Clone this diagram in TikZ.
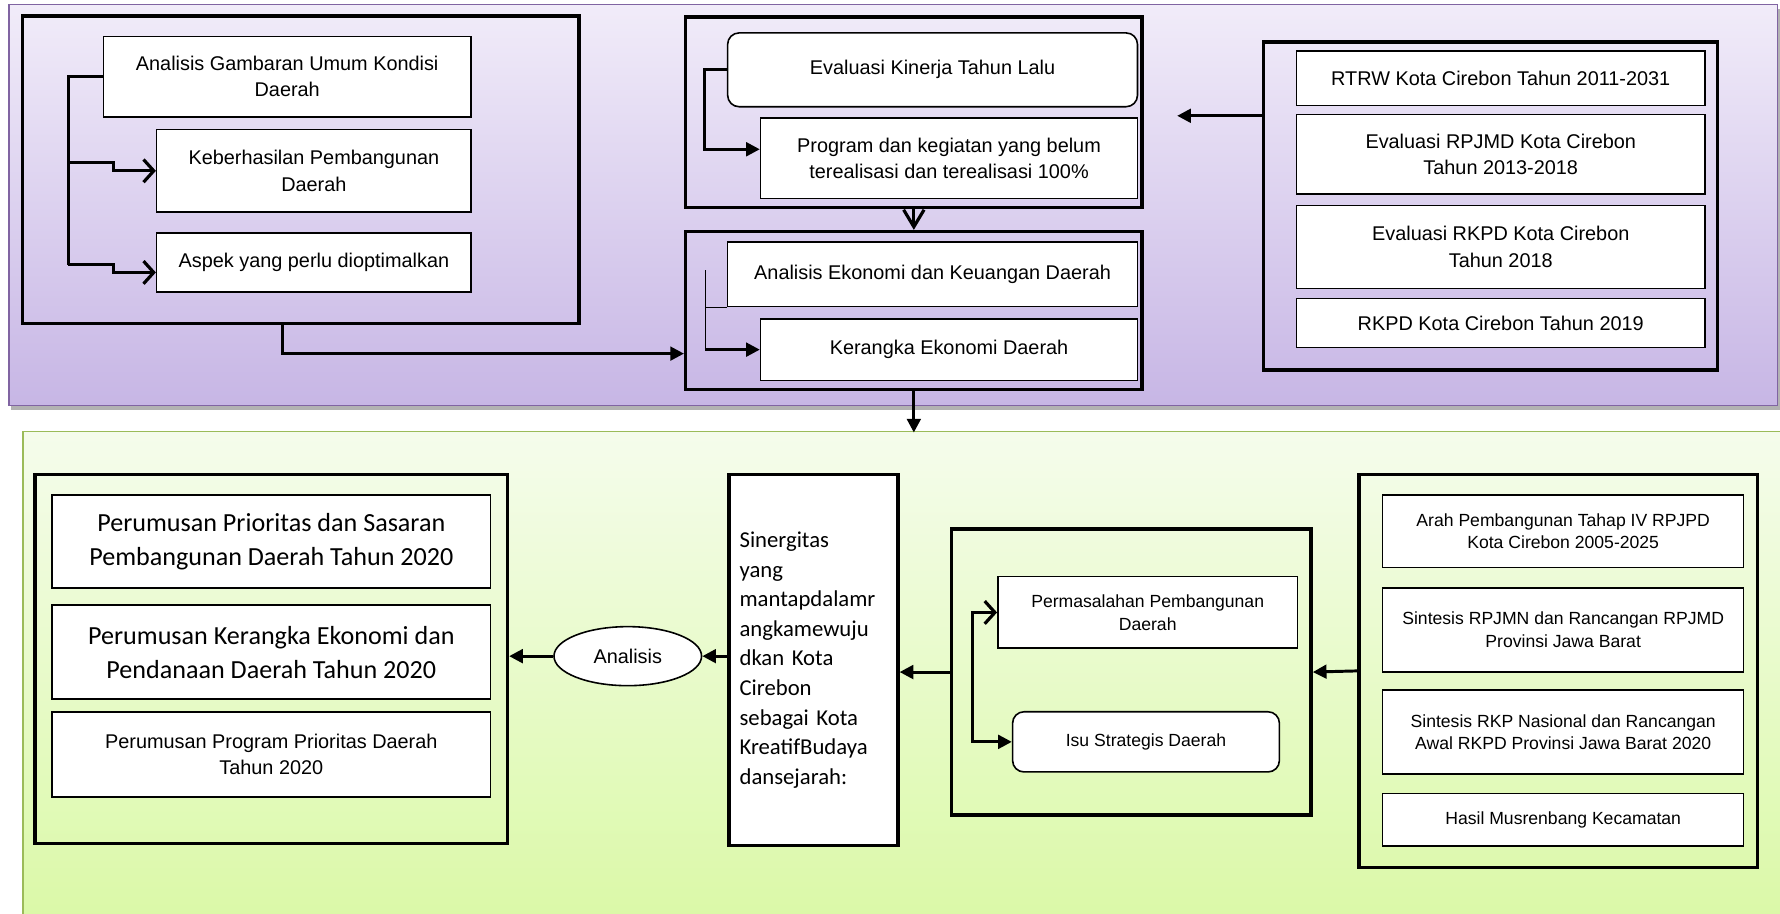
\documentclass[tikz,border=0pt]{standalone}
\usepackage{fontspec}
\setmainfont{Liberation Sans}
\newfontfamily\calibri{Carlito}
\usetikzlibrary{arrows.meta,shapes.geometric}
\definecolor{ungu}{RGB}{128,100,162}
\definecolor{unguatas}{RGB}{241,236,249}
\definecolor{ungubawah}{RGB}{199,182,229}
\definecolor{hijau}{RGB}{155,187,89}
\definecolor{hijauatas}{RGB}{245,252,236}
\definecolor{hijaubawah}{RGB}{219,249,168}
\tikzset{
	kotak/.style 2 args={draw,line width=1.4pt,fill=white,align=center,inner sep=0pt,minimum width=#1pt,minimum height=#2pt,font=\fontsize{17.5}{23}\selectfont},
	bulat/.style 2 args={kotak={#1}{#2},rounded corners=10pt},
	grup/.style 2 args={draw,line width=3pt,inner sep=0pt,minimum width=#1pt,minimum height=#2pt},
	kecil/.style={font=\fontsize{15.5}{20}\selectfont},
	besar/.style={font=\calibri\fontsize{23}{30}\selectfont},
	sinergi/.style={align=left,text width=130pt,line width=3pt,font=\calibri\fontsize{20}{26}\selectfont},
	elips/.style={draw,ellipse,line width=1.4pt,fill=white,inner sep=0pt,minimum width=130pt,minimum height=52pt,font=\fontsize{17.5}{23}\selectfont},
	garis/.style={line width=2.8pt},
	panahbuka/.style={line width=2.8pt,-{Straight Barb[length=9pt,width=20pt]}},
	panahisi/.style={line width=2.6pt,-{Triangle[length=12pt,width=12pt]}}
}

\begin{document}
\begin{tikzpicture}[x=1pt,y=-1pt]
	\useasboundingbox (0,0) rectangle (1568,805);
	\fill[gray!60] (10,8) rectangle (1568,361);
	\shade[top color=unguatas,bottom color=ungubawah] (8,4) rectangle (1566,357);
	\draw[ungu,line width=1.2pt] (8,4) rectangle (1566,357);
	\shade[top color=hijauatas,bottom color=hijaubawah] (20,380) rectangle (1568,805);
	\draw[hijau,line width=1.5pt] (20,805) |- (1568,380);

	\node[grup={490}{271}] (grpKondisi) at (265,149.5) {};
	\node[kotak={324}{71}] (gambaran) at (253,67.5) {Analisis Gambaran Umum Kondisi\\Daerah};
	\node[kotak={277}{73}] (keberhasilan) at (276.5,150.5) {Keberhasilan Pembangunan\\Daerah};
	\node[kotak={277}{52}] (aspek) at (276.5,231) {Aspek yang perlu dioptimalkan};

	\node[grup={402}{168}] (grpEvaluasi) at (805,99) {};
	\node[bulat={361}{65}] (kinerja) at (821.5,61.5) {Evaluasi Kinerja Tahun Lalu};
	\node[kotak={332}{71}] (program) at (836,139.5) {Program dan kegiatan yang belum\\terealisasi dan terealisasi 100\%};

	\node[grup={402}{139}] (grpEkonomi) at (805,273.5) {};
	\node[kotak={361}{57}] (analisisEko) at (821.5,241.5) {Analisis Ekonomi dan Keuangan Daerah};
	\node[kotak={332}{54}] (kerangka) at (836,308) {Kerangka Ekonomi Daerah};

	\node[grup={400}{289}] (grpAcuan) at (1313,181.5) {};
	\node[kotak={360}{48}] (rtrw) at (1322,69) {RTRW Kota Cirebon Tahun 2011-2031};
	\node[kotak={360}{70}] (rpjmd) at (1322,136) {Evaluasi RPJMD Kota Cirebon\\Tahun 2013-2018};
	\node[kotak={360}{73}] (rkpdLalu) at (1322,217.5) {Evaluasi RKPD Kota Cirebon\\Tahun 2018};
	\node[kotak={360}{43}] (rkpdKini) at (1322,284.5) {RKPD Kota Cirebon Tahun 2019};

	\node[grup={416}{325}] (grpRumusan) at (239,580.5) {};
	\node[kotak={386}{82},besar] (prioritas) at (239,477) {Perumusan Prioritas dan Sasaran\\Pembangunan Daerah Tahun 2020};
	\node[kotak={386}{83},besar] (pendanaan) at (239,574.5) {Perumusan Kerangka Ekonomi dan\\Pendanaan Daerah Tahun 2020};
	\node[kotak={386}{75}] (programPrioritas) at (239,664.5) {Perumusan Program Prioritas Daerah\\Tahun 2020};
	\node[elips] (analisis) at (553,578) {Analisis};
	\node[kotak={149}{327},sinergi] (sinergitas) at (716.5,581.5) {Sinergitas\\yang\\mantapdalamr\\angkamewuju\\dkan Kota\\Cirebon\\sebagai Kota\\KreatifBudaya\\dansejarah:};

	\node[grup={317}{252}] (grpMasalah) at (996.5,592) {};
	\node[kotak={264}{63},kecil] (permasalahan) at (1011,539.5) {Permasalahan Pembangunan\\Daerah};
	\node[bulat={235}{53},kecil] (isu) at (1009.5,653.5) {Isu Strategis Daerah};

	\node[grup={351}{346}] (grpSintesis) at (1372.5,591) {};
	\node[kotak={318}{64},kecil] (arah) at (1377,468) {Arah Pembangunan Tahap IV RPJPD\\Kota Cirebon 2005-2025};
	\node[kotak={318}{74},kecil] (rpjmn) at (1377,555) {Sintesis RPJMN dan Rancangan RPJMD\\Provinsi Jawa Barat};
	\node[kotak={318}{74},kecil] (rkpNas) at (1377,645) {Sintesis RKP Nasional dan Rancangan\\Awal RKPD Provinsi Jawa Barat 2020};
	\node[kotak={318}{46},kecil] (musrenbang) at (1377,722) {Hasil Musrenbang Kecamatan};

	\coordinate (kiriAtas) at (60,143);
	\coordinate (kiriBawah) at (60,233);
	\draw[garis] (gambaran.west) -| (kiriBawah);
	\draw[panahbuka] (kiriAtas) -- ++(40,0) |- (keberhasilan.west);
	\draw[panahbuka] (kiriBawah) -- ++(40,0) |- ([yshift=-9pt]aspek.west);
	\draw[panahisi] ([xshift=-16pt]grpKondisi.south) |- ([yshift=-38pt]grpEkonomi.west);
	\draw[panahisi] (kinerja.west) -- ++(-20,0) |- ([yshift=8pt]program.west);
	\draw[line width=2.8pt,-{Straight Barb[length=15pt,width=18pt]}] (grpEvaluasi.south) -- (grpEkonomi.north);
	\coordinate (ekoAtas) at (621,238);
	\draw[thin] (ekoAtas) -- (ekoAtas |- kerangka.west);
	\draw[thin] (analisisEko.south west) -- (analisisEko.south west -| ekoAtas);
	\draw[panahisi] (ekoAtas |- kerangka.west) -- (kerangka.west);
	\coordinate (ujungAcuan) at (1037,102);
	\draw[panahisi] (grpAcuan.west |- ujungAcuan) -- (ujungAcuan);
	\coordinate (hijauAtas) at (805,381);
	\draw[panahisi] (grpEkonomi.south) -- (hijauAtas);

	\draw[panahisi] (grpSintesis.west) -- (grpMasalah.east);
	\draw[panahisi] (grpMasalah.west) -- (grpMasalah.west -| sinergitas.east);
	\draw[panahisi] (sinergitas.west |- analisis.east) -- (analisis.east);
	\draw[panahisi] (analisis.west) -- (analisis.west -| grpRumusan.east);
	\coordinate (cabangIsu) at (857,600);
	\draw[panahbuka] (cabangIsu) |- (permasalahan.west);
	\draw[panahisi] (cabangIsu) |- (isu.west);
\end{tikzpicture}
\end{document}
